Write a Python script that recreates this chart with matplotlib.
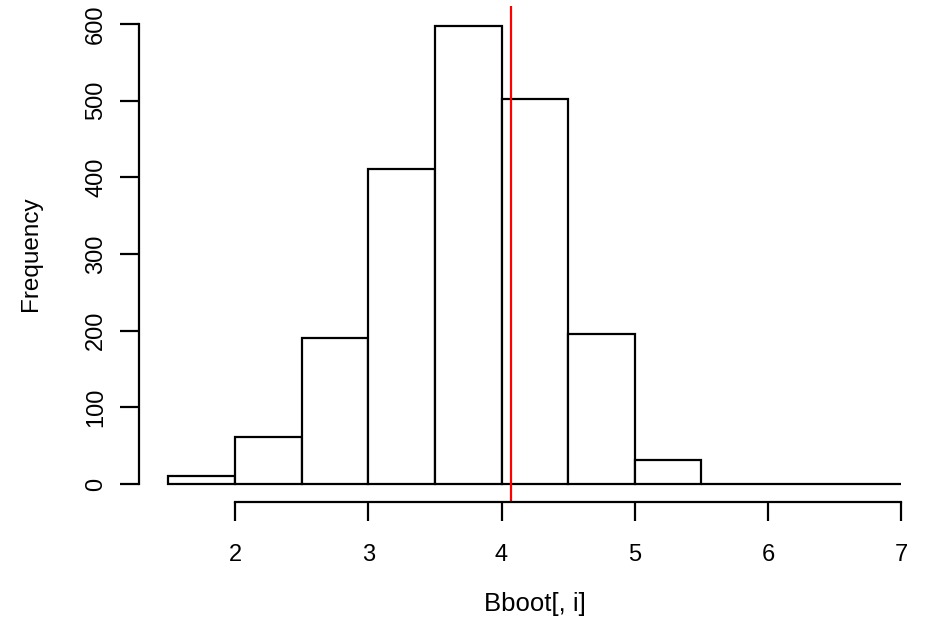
import numpy as np
import matplotlib
matplotlib.use("Agg")
import matplotlib.pyplot as plt

# bin edges and counts
bin_edges = [1.5, 2.0, 2.5, 3.0, 3.5, 4.0, 4.5, 5.0, 5.5, 6.0, 6.5, 7.0]
counts = [11, 61, 191, 411, 598, 502, 196, 31, 0, 0, 0]
x_ticks = [2, 3, 4, 5, 6, 7]
y_ticks = [0, 100, 200, 300, 400, 500, 600]
ref_value = 4.07

plt.rcParams['font.family'] = ['Liberation Sans', 'DejaVu Sans']

fig = plt.figure(figsize=(9.27, 6.38), dpi=100)
ax = fig.add_axes([0.150, 0.2125, 0.854, 0.7787])

widths = np.diff(bin_edges)
ax.bar(bin_edges[:-1], counts, width=widths, align='edge',
       facecolor='white', edgecolor='black', linewidth=1.6)
ax.axvline(ref_value, color='red', linewidth=1.6)

# R style range padding
xr = bin_edges[-1] - bin_edges[0]
ax.set_xlim(bin_edges[0] - 0.04 * xr, bin_edges[-1] + 0.04 * xr)
ax.set_ylim(-0.04 * 600, 600 * 1.04)

for s in ['top', 'right']:
    ax.spines[s].set_visible(False)
ax.spines['bottom'].set_bounds(x_ticks[0], x_ticks[-1])
ax.spines['left'].set_bounds(y_ticks[0], y_ticks[-1])
ax.spines['bottom'].set_linewidth(1.6)
ax.spines['left'].set_linewidth(1.6)

ax.set_xticks(x_ticks)
ax.set_yticks(y_ticks)
ax.set_yticklabels([str(v) for v in y_ticks], rotation=90, va='center')
ax.tick_params(axis='both', length=14, width=1.6, labelsize=17, pad=16)
ax.tick_params(axis='y', pad=9)

ax.set_xlabel('Bboot[, i]', fontsize=18.5, labelpad=19)
ax.set_ylabel('Frequency', fontsize=17.5, labelpad=31)

fig.savefig('out.png', dpi=100)
